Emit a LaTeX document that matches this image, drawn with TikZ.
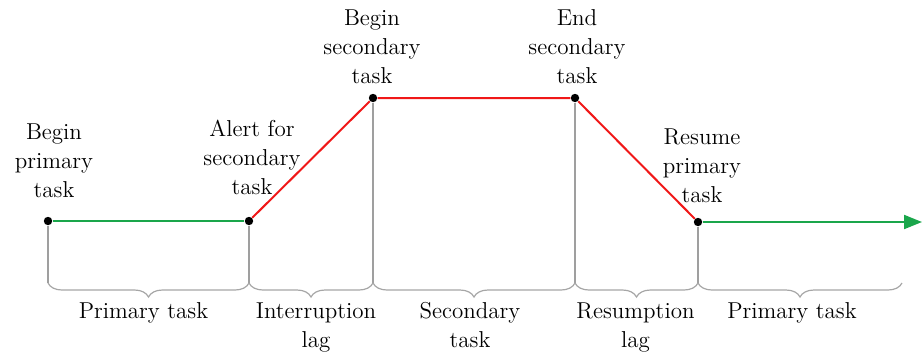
\documentclass[tikz,border=0pt]{standalone}
\usetikzlibrary{arrows.meta, positioning, decorations.pathreplacing}
\definecolor{task-green}{HTML}{1AA64B}
\definecolor{task-red}{HTML}{F01818}

\begin{document}
\begin{tikzpicture}[
    x=0.5pt, y=-0.5pt,
    dot/.style={circle, fill=black, inner sep=0pt, minimum size=4.2pt},
    event/.style={align=center, inner sep=0pt, font=\rmfamily\fontsize{11.5}{14.5}\selectfont},
    guide/.style={draw=gray!75, line width=0.7pt},
    span/.style={draw=gray!70, line width=0.6pt, decorate, decoration={brace, mirror, amplitude=7pt}}
]
    \useasboundingbox (0,0) rectangle (924,355);

    \node (begin) [dot] at (48,221) {};
    \node (alert) [dot] at (249,221) {};
    \node (start) [dot] at (373,98) {};
    \node (finish) [dot] at (575,98) {};
    \node (resume) [dot] at (698,222) {};
    \coordinate (end) at (922,222);
    \coordinate (base) at (0,283);
    \coordinate (tail) at (902,283);

    \node (beginlbl) [event, above=9pt of begin, xshift=3pt] {Begin\\primary\\task};
    \node (alertlbl) [event, above=10.5pt of alert, xshift=1.5pt] {Alert for\\secondary\\task};
    \node (startlbl) [event, above=4.5pt of start, xshift=-0.5pt] {Begin\\secondary\\task};
    \node (finishlbl) [event, above=4.5pt of finish, xshift=1pt] {End\\secondary\\task};
    \node (resumelbl) [event, above=7pt of resume, xshift=2pt] {Resume\\primary\\task};

    \foreach \p in {begin, alert, start, finish, resume}
        \draw [guide] (\p) -- (\p |- base);

    \draw [task-green, line width=1pt] (begin) -- (alert);
    \draw [task-red, line width=1pt] (alert) -- (start) -- (finish) -- (resume);
    \draw [task-green, line width=1pt, -{Triangle[length=9pt, width=7pt]}] (resume) -- (end);

    \draw [span] (begin |- base) -- (alert |- base)
        node (phase1) [event, midway, below=9.5pt, xshift=-2.5pt] {Primary task};
    \draw [span] (alert |- base) -- (start |- base)
        node (phase2) [event, midway, below=9.5pt, xshift=2.5pt] {Interruption\\lag};
    \draw [span] (start |- base) -- (finish |- base)
        node (phase3) [event, midway, below=9.5pt, xshift=-2pt] {Secondary\\task};
    \draw [span] (finish |- base) -- (resume |- base)
        node (phase4) [event, midway, below=9.5pt, xshift=-0.5pt] {Resumption\\lag};
    \draw [span] (resume |- base) -- (tail)
        node (phase5) [event, midway, below=9.5pt, xshift=-4pt] {Primary task};
\end{tikzpicture}
\end{document}
